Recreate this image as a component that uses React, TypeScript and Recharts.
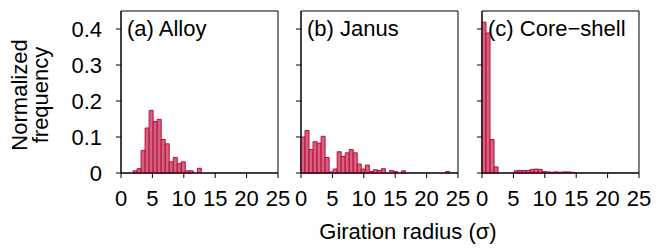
import { BarChart, Bar, XAxis, YAxis, ReferenceArea } from 'recharts'

// histogram bins: width in giration-radius units, first bin starts at 0
const binWidth = 0.64

const alloyFreq = [
  0, 0, 0, 0.006, 0.012, 0.063, 0.125, 0.174, 0.143, 0.149,
  0.093, 0.081, 0.031, 0.043, 0.026, 0.031, 0.006, 0.006, 0, 0.013,
  0, 0, 0, 0, 0, 0, 0, 0, 0, 0,
  0, 0, 0, 0, 0, 0, 0, 0, 0,
]

const janusFreq = [
  0.1, 0.118, 0.065, 0.087, 0.083, 0.102, 0.043, 0.003, 0.011, 0.059,
  0.046, 0.056, 0.065, 0.056, 0.025, 0.011, 0.022, 0.004, 0.009, 0.007,
  0.012, 0, 0.007, 0.004, 0, 0.006, 0, 0, 0, 0,
  0, 0, 0, 0, 0, 0, 0.004, 0, 0,
]

const coreShellFreq = [
  0.419, 0.389, 0.093, 0.017, 0, 0, 0, 0, 0.006, 0.007,
  0.007, 0.007, 0.01, 0.011, 0.01, 0.004, 0.003, 0.002, 0.003, 0.002,
  0.003, 0.003, 0.002, 0, 0, 0, 0, 0, 0, 0,
  0, 0, 0, 0, 0, 0, 0, 0, 0,
]

const panelTitles = ['(a) Alloy', '(b) Janus', '(c) Core\u2212shell']
const xTicks = [0, 5, 10, 15, 20, 25]
const yTicks = [0, 0.1, 0.2, 0.3, 0.4]

const toBins = (freq: number[]) => freq.map((f, i) => ({ r: (i + 0.5) * binWidth, f }))

const FONT = '"Liberation Sans", Arial, Helvetica, sans-serif'
const plotLefts = [121, 301, 482]
const plotW = 157
const axisW = 60
const padR = 18

function Panel({ freq, idx }: { freq: number[]; idx: number }) {
  const data = toBins(freq)
  return (
    <div style={{ position: 'absolute', left: plotLefts[idx] - axisW, top: 0 }}>
      <BarChart
        width={axisW + plotW + padR}
        height={213}
        data={data}
        margin={{ top: 11, right: padR, bottom: 0, left: 0 }}
        barCategoryGap={0}
        barGap={0}
      >
        <XAxis
          dataKey="r"
          type="number"
          domain={[0, 25]}
          ticks={xTicks}
          interval={0}
          height={40}
          tickSize={5}
          tickMargin={12}
          stroke="#000"
          tick={{ fill: '#000', fontSize: 22, fontFamily: FONT }}
        />
        <YAxis
          type="number"
          domain={[0, 0.45]}
          ticks={yTicks}
          width={axisW}
          tickSize={5}
          tickMargin={14}
          stroke="#000"
          tickFormatter={idx === 0 ? undefined : () => ''}
          tick={{ fill: '#000', fontSize: 22, fontFamily: FONT }}
        />
        <ReferenceArea x1={0} x2={25} y1={0} y2={0.45} fill="none" fillOpacity={0} stroke="#000" strokeWidth={1} />
        <Bar dataKey="f" fill="#d6627f" stroke="#b0103a" strokeWidth={1} isAnimationActive={false} />
      </BarChart>
    </div>
  )
}

export default function App() {
  const series = [alloyFreq, janusFreq, coreShellFreq]
  return (
    <div style={{ position: 'absolute', left: 0, top: 0, width: 660, height: 248, background: '#fff', fontFamily: FONT }}>
      {series.map((s, i) => <Panel key={i} freq={s} idx={i} />)}
      <svg width={660} height={248} style={{ position: 'absolute', left: 0, top: 0, pointerEvents: 'none' }}>
        {panelTitles.map((t, i) => (
          <text key={t} x={plotLefts[i] + 6} y={36} fontSize={22} fontFamily={FONT} fill="#000">{t}</text>
        ))}
        <text x={27} y={95} transform="rotate(-90 27 95)" textAnchor="middle" fontSize={22} fontFamily={FONT} fill="#000">Normalized</text>
        <text x={48} y={95} transform="rotate(-90 48 95)" textAnchor="middle" fontSize={22} fontFamily={FONT} fill="#000">frequency</text>
        <text x={408} y={239} textAnchor="middle" fontSize={22} fontFamily={FONT} fill="#000">Giration radius (σ)</text>
      </svg>
    </div>
  )
}
